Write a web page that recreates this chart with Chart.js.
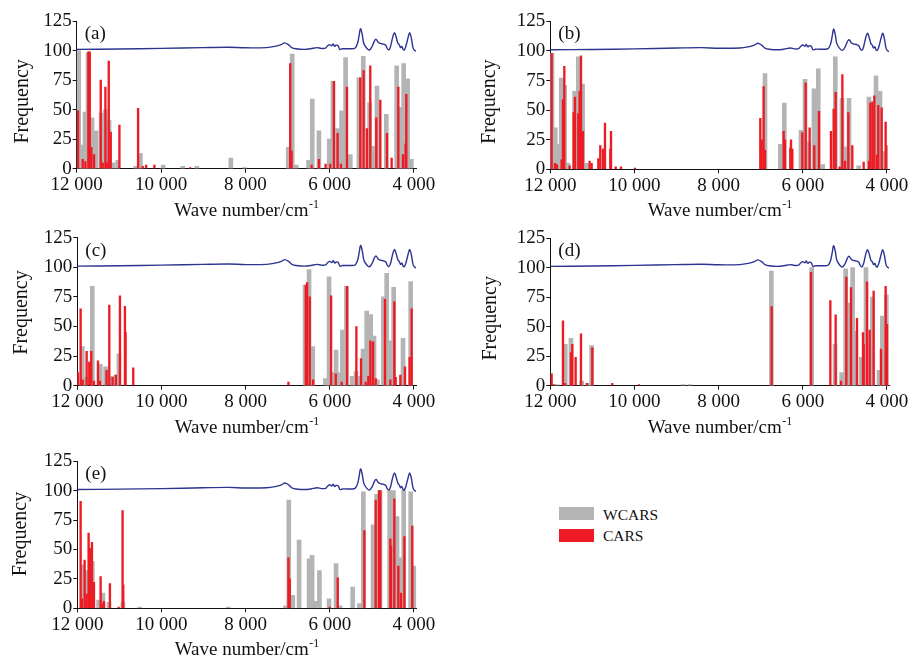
<!DOCTYPE html>
<html>
<head>
<meta charset="utf-8">
<script src="https://cdn.jsdelivr.net/npm/chart.js@4.4.0/dist/chart.umd.min.js"></script>
<style>
  body { margin: 0; background: #fff; width: 909px; height: 655px; overflow: hidden; position: relative;
         font-family: 'Liberation Serif', 'Times New Roman', serif; }
  canvas { position: absolute; }
  .key { position: absolute; left: 559px; width: 35px; height: 13px; }
  .lab { position: absolute; left: 603px; font-size: 15.5px; color: #111; line-height: 16px; }
</style>
</head>
<body>
<canvas id="pa"></canvas>
<canvas id="pb"></canvas>
<canvas id="pc"></canvas>
<canvas id="pd"></canvas>
<canvas id="pe"></canvas>
<div class="key" style="top:507px;background:#b4b4b4"></div>
<div class="lab" style="top:507px">WCARS</div>
<div class="key" style="top:529px;background:#ed1c24"></div>
<div class="lab" style="top:528px">CARS</div>
<script>
// reference NIR spectrum drawn on top of every panel (wavenumber, value)
const specWn  = [12000, 11000, 10000, 9000, 8400, 8000, 7500, 7300, 7150, 7070, 6980, 6900, 6800, 6600, 6450, 6300, 6200, 6100, 6050, 6000, 5950, 5920, 5880, 5850, 5800, 5760, 5700, 5500, 5400, 5340, 5300, 5270, 5230, 5190, 5120, 5060, 5000, 4940, 4900, 4850, 4800, 4730, 4670, 4640, 4600, 4560, 4500, 4460, 4420, 4380, 4350, 4320, 4290, 4260, 4230, 4190, 4140, 4100, 4060, 4020, 3980, 3950];
const specVal = [101, 101.3, 101.8, 102.5, 102.8, 102.3, 102.5, 103.5, 105, 106.5, 105, 102.5, 101.5, 101, 101.5, 102.5, 101.8, 102, 104, 105, 104, 105.5, 103.5, 104.5, 104, 101, 101.5, 101.5, 102, 106, 113, 118.5, 114, 106, 102, 100.5, 103, 108, 109.5, 107, 106, 105.5, 104.5, 102, 100.5, 103, 112, 115, 111, 106, 105, 102.5, 103.5, 101, 100.5, 104, 111, 115, 110, 102, 100, 99.5];

const xTicks = [12000, 10000, 8000, 6000, 4000];
const yTicks = [0, 25, 50, 75, 100, 125];

// selection frequency per variable: [wavenumber, frequency]
const wcarsA = [[11953,100],[11873,20],[11802,48],[11731,98],[11636,43],[11541,32],[11422,47],[11319,50],[11232,41],[11137,5],[11027,7],[10599,2],[10489,13],[9950,3],[9484,2],[9151,2],[8344,9],[8020,1],[6983,18],[6888,97],[6793,3],[6500,7],[6413,59],[6255,32],[6010,25],[5923,74],[5812,34],[5717,49],[5622,94],[5511,12],[5306,77],[5203,95],[5053,56],[4965,19],[4878,70],[4657,46],[4411,87],[4324,52],[4245,89],[4150,76],[4063,8]];
const carsA = [[11968,49],[11858,8],[11794,6],[11723,99],[11691,99],[11652,18],[11589,12],[11430,75],[11383,5],[11319,69],[11288,5],[11240,91],[11193,31],[10987,37],[10544,51],[10433,2],[10354,3],[10156,3],[9310,1],[6936,89],[6904,15],[6429,3],[6255,8],[6097,4],[5986,4],[5899,74],[5812,30],[5733,4],[5590,69],[5274,77],[5195,83],[5116,34],[5037,87],[4894,43],[4799,58],[4641,30],[4530,9],[4372,69],[4261,12],[4198,21],[4182,63]];

const wcarsB = [[11960,98],[11881,35],[11810,21],[11739,77],[11659,71],[11580,5],[11422,66],[11335,95],[11232,72],[11137,5],[6899,81],[6535,21],[6440,56],[6043,33],[5948,76],[5861,23],[5735,68],[5632,85],[5529,4],[5228,95],[5069,60],[4990,19],[4903,60],[4673,3],[4428,61],[4261,79],[4166,66],[4079,15]];
const carsB = [[11968,98],[11889,5],[11842,4],[11731,8],[11699,59],[11667,87],[11541,3],[11446,48],[11414,61],[11335,47],[11303,66],[11271,96],[11224,32],[11065,7],[11018,5],[10859,9],[10812,20],[10748,17],[10701,39],[10574,17],[10558,32],[10447,2],[10321,2],[9988,1],[7010,43],[6978,25],[6931,70],[6899,16],[6455,32],[6424,25],[6297,18],[6281,25],[6249,17],[6012,31],[5933,73],[5838,35],[5727,20],[5616,49],[5331,32],[5267,51],[5220,65],[5125,2],[5061,80],[4998,7],[4919,48],[4824,20],[4554,6],[4428,7],[4396,56],[4348,57],[4301,62],[4237,12],[4206,54],[4127,52],[4032,40],[4016,20]];

const wcarsC = [[11881,33],[11794,7],[11644,84],[11454,18],[11327,16],[11177,8],[11082,9],[11011,27],[6587,85],[6493,98],[6406,33],[6105,6],[6018,92],[5931,11],[5852,30],[5772,11],[5701,47],[5606,84],[5472,8],[5377,12],[5282,8],[5211,31],[5124,63],[5029,60],[4950,42],[4870,5],[4728,75],[4649,95],[4570,38],[4483,83],[4261,40],[4079,88]];
const carsC = [[11984,11],[11921,65],[11873,5],[11778,29],[11715,20],[11668,29],[11604,4],[11509,21],[11462,4],[11304,13],[11240,68],[11161,7],[11082,9],[10987,76],[10868,67],[10853,45],[10671,15],[6983,3],[6571,85],[6540,87],[6477,75],[6398,5],[5970,76],[5859,10],[5717,3],[5590,84],[5369,50],[5258,23],[5147,3],[5084,8],[5037,38],[4973,37],[4910,6],[4689,73],[4562,5],[4467,71],[4435,7],[4324,9],[4214,16],[4103,24],[4055,65]];

const wcarsD = [[11842,1],[11644,35],[11509,40],[11255,4],[11105,2],[11018,34],[8847,1],[8681,1],[6748,97],[5790,100],[5235,35],[5077,11],[4982,99],[4895,70],[4816,100],[4744,46],[4610,24],[4499,100],[4348,75],[4190,13],[4111,59],[4016,77]];
const carsD = [[11968,10],[11921,1],[11699,55],[11651,2],[11509,28],[11477,35],[11398,24],[11271,44],[11129,2],[11002,32],[10527,2],[9893,1],[6740,67],[5806,96],[5346,72],[5220,60],[5093,4],[4966,92],[4855,83],[4713,57],[4570,45],[4554,35],[4475,88],[4412,47],[4317,80],[4143,31],[4032,84],[4000,52]];

const wcarsE = [[11881,37],[11786,32],[11644,40],[11494,7],[11391,13],[11248,5],[10916,5],[10520,1],[8415,1],[7054,2],[6975,92],[6880,11],[6730,58],[6493,42],[6421,45],[6334,6],[6247,32],[6018,8],[5852,38],[5757,2],[5456,18],[5298,4],[5203,99],[4973,71],[4886,97],[4807,100],[4578,100],[4490,100],[4403,78],[4332,43],[4245,100],[4079,99],[3984,36]];
const carsE = [[11921,91],[11889,8],[11826,41],[11778,12],[11731,64],[11699,51],[11652,56],[11604,22],[11446,27],[11399,4],[11367,6],[11225,21],[11019,1],[10924,83],[10908,20],[6983,43],[6952,25],[6002,1],[5812,26],[5179,66],[4910,92],[4831,100],[4799,100],[4562,59],[4546,53],[4467,93],[4372,36],[4308,13],[4229,61],[4040,70]];

const GRAY = '#b4b4b4';
const RED = '#ed1c24';
const BLUE = '#2b3590';
const SERIF = "'Liberation Serif', 'Times New Roman', serif";
const CW = 500, CH = 230;

// page placement of each panel: canvas corner and plot-area edges
const panels = [
  { id: 'pa', tag: '(a)', cx: 0,   cy: 0,   L: 76.7,  R: 416.1, T: 21,    B: 168.7, ytx: 53.5, yty: 67.3, wcars: wcarsA, cars: carsA },
  { id: 'pb', tag: '(b)', cx: 455, cy: 0,   L: 550.3, R: 889.1, T: 21.4,  B: 169.3, ytx: 61,   yty: 67.6, wcars: wcarsB, cars: carsB },
  { id: 'pc', tag: '(c)', cx: 0,   cy: 215, L: 77.3,  R: 416.1, T: 237.7, B: 385.7, ytx: 55.4, yty: 73.2, wcars: wcarsC, cars: carsC },
  { id: 'pd', tag: '(d)', cx: 455, cy: 215, L: 550.3, R: 889.1, T: 238,   B: 385.7, ytx: 59.3, yty: 67.4, wcars: wcarsD, cars: carsD },
  { id: 'pe', tag: '(e)', cx: 0,   cy: 430, L: 77.3,  R: 416.1, T: 461.3, B: 608.3, ytx: 57,   yty: 74.3, wcars: wcarsE, cars: carsE }
];

const fmtWn = v => String(v).replace(/\B(?=(\d{3})+(?!\d))/g, ' ');
const toPts = arr => arr.map(([x, y]) => ({ x, y }));
const specPts = specWn.map((x, i) => ({ x, y: specVal[i] }));

const panelText = {
  id: 'panelText',
  afterDraw(chart, args, o) {
    const { ctx } = chart;
    const { left, right, top, bottom } = chart.chartArea;
    ctx.save();
    ctx.fillStyle = '#111';

    ctx.font = '19px ' + SERIF;
    ctx.textAlign = 'left';
    ctx.textBaseline = 'middle';
    ctx.fillText(o.tag, left + 8, top + 13);

    // x title with superscript -1
    const main = 'Wave number/cm', sup = '-1';
    ctx.font = '19px ' + SERIF;
    const w1 = ctx.measureText(main).width;
    ctx.font = '12px ' + SERIF;
    const w2 = ctx.measureText(sup).width;
    const x0 = (left + right) / 2 - (w1 + w2) / 2;
    ctx.textBaseline = 'alphabetic';
    ctx.font = '19px ' + SERIF;
    ctx.fillText(main, x0, bottom + 47);
    ctx.font = '12px ' + SERIF;
    ctx.fillText(sup, x0 + w1 + 0.5, bottom + 39);

    ctx.translate(left - o.ytx, bottom - o.yty);
    ctx.rotate(-Math.PI / 2);
    ctx.textAlign = 'center';
    ctx.textBaseline = 'middle';
    ctx.font = '20px ' + SERIF;
    ctx.fillText('Frequency', 0, 0);
    ctx.restore();
  }
};

function drawPanel(p) {
  const cv = document.getElementById(p.id);
  cv.width = CW; cv.height = CH;
  cv.style.left = p.cx + 'px';
  cv.style.top = p.cy + 'px';

  const yw = p.L - p.cx;
  const xh = CH - (p.B - p.cy);

  return new Chart(cv.getContext('2d'), {
    type: 'bar',
    data: {
      datasets: [
        { type: 'line', label: 'spectrum', data: specPts, borderColor: BLUE, borderWidth: 1.4,
          pointRadius: 0, tension: 0.35, fill: false, order: 0 },
        { label: 'CARS', data: toPts(p.cars), backgroundColor: RED, borderWidth: 0,
          barThickness: 1.7, grouped: false, order: 1 },
        { label: 'WCARS', data: toPts(p.wcars), backgroundColor: GRAY, borderWidth: 0,
          barThickness: 4, grouped: false, order: 2 }
      ]
    },
    options: {
      responsive: false,
      animation: false,
      devicePixelRatio: 1,
      layout: { padding: { top: p.T - p.cy, left: 0, right: CW - (p.R - p.cx), bottom: 0 } },
      plugins: { legend: { display: false }, tooltip: { enabled: false }, panelText: { tag: p.tag, ytx: p.ytx, yty: p.yty } },
      scales: {
        x: {
          type: 'linear', reverse: true, min: 3950, max: 12000, offset: false,
          afterBuildTicks: s => { s.ticks = xTicks.map(v => ({ value: v })); },
          afterFit: s => { s.height = xh; },
          ticks: { callback: v => fmtWn(v), color: '#111', font: { family: SERIF, size: 19 }, padding: 1, maxRotation: 0, autoSkip: false },
          grid: { display: true, drawOnChartArea: false, drawTicks: true, tickLength: 4, color: '#111', offset: false },
          border: { display: true, color: '#111', width: 1 }
        },
        y: {
          min: 0, max: 125,
          afterBuildTicks: s => { s.ticks = yTicks.map(v => ({ value: v })); },
          afterFit: s => { s.width = yw; },
          ticks: { color: '#111', font: { family: SERIF, size: 19 }, padding: 1 },
          grid: { display: true, drawOnChartArea: false, drawTicks: true, tickLength: 4, color: '#111' },
          border: { display: true, color: '#111', width: 1 }
        }
      }
    },
    plugins: [panelText]
  });
}

panels.forEach(drawPanel);
</script>
</body>
</html>
